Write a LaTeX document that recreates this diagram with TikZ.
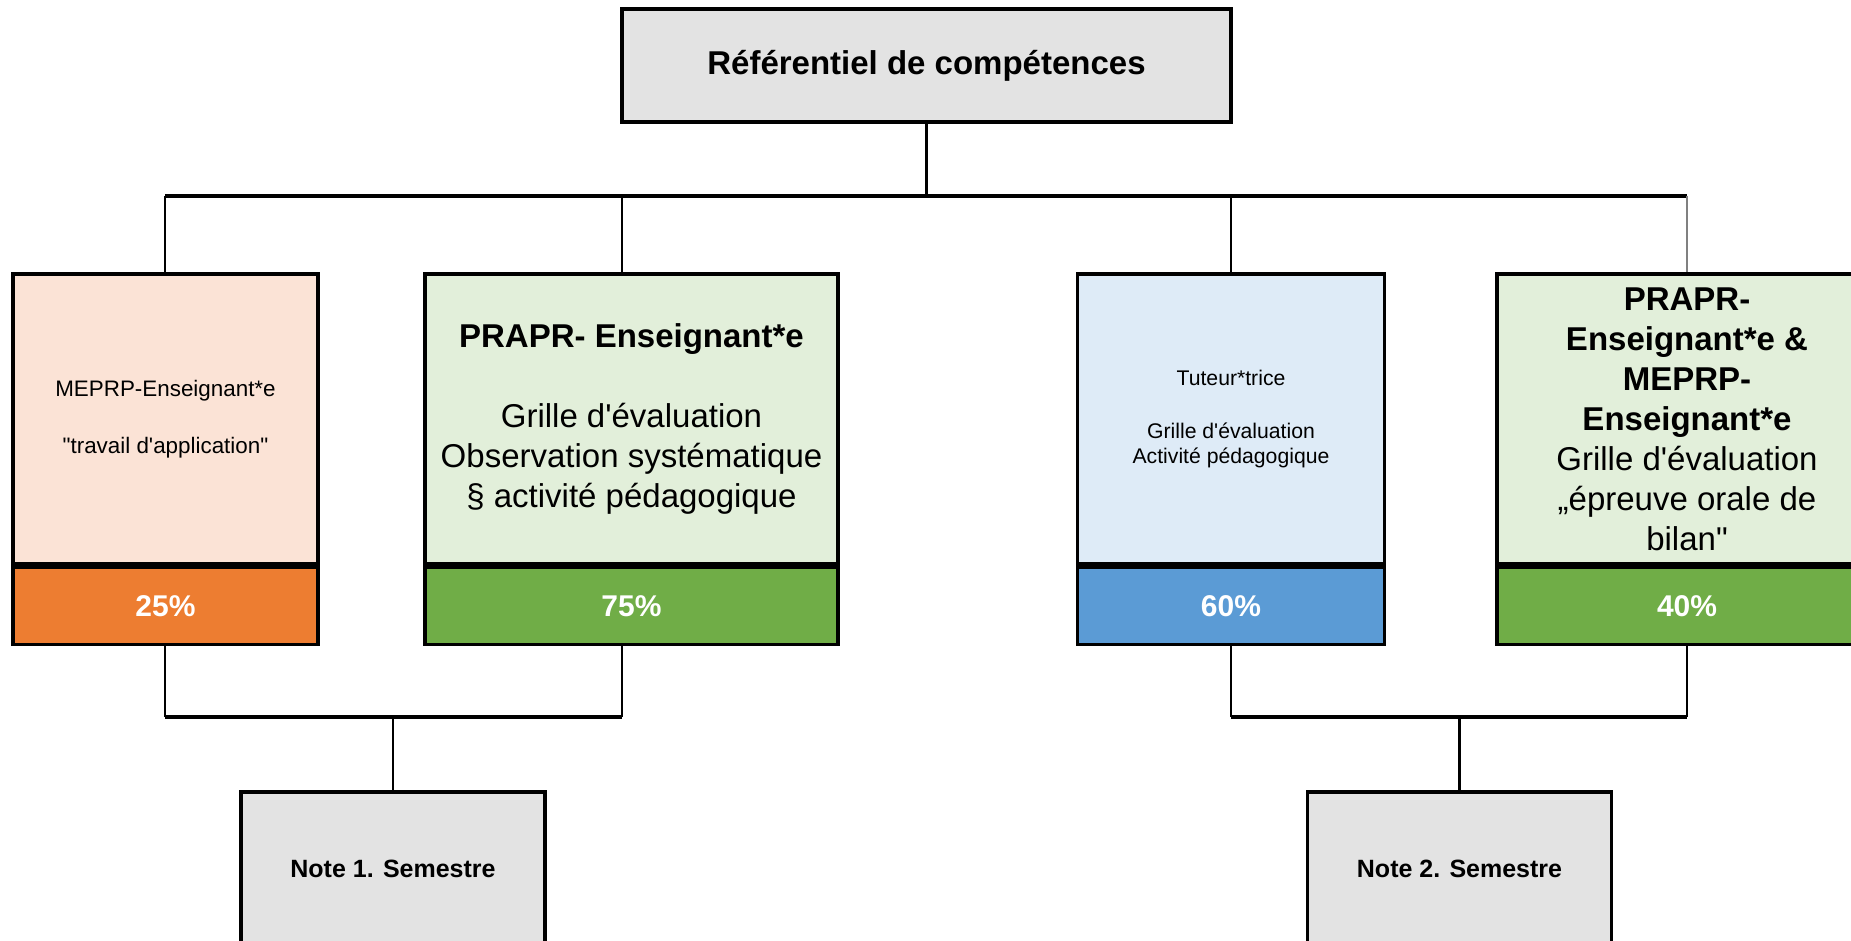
\documentclass[tikz,border=0pt]{standalone}
\usepackage{fontspec}
\setmainfont{Liberation Sans}
\usepackage{tikz}
\definecolor{refgray}{HTML}{E3E3E3}
\definecolor{meprpfill}{HTML}{FBE3D6}
\definecolor{meprpbar}{HTML}{ED7D31}
\definecolor{praprfill}{HTML}{E2EFDA}
\definecolor{praprbar}{HTML}{70AD47}
\definecolor{tutofill}{HTML}{DEEBF7}
\definecolor{tutobar}{HTML}{5B9BD5}
\newcommand{\apo}{\textquotesingle}
\newcommand{\dq}{\textquotedbl}

\begin{document}
\begin{tikzpicture}[x=0.5pt, y=-0.5pt,
    box/.style={rectangle, draw, line width=1.8pt, align=center, inner sep=0pt},
    topbox/.style={box, fill=refgray, minimum width=304.5pt, minimum height=56.5pt, font=\bfseries\fontsize{16.5}{20}\selectfont},
    card/.style={box, minimum height=145pt},
    bigtext/.style={font=\fontsize{16.5}{20}\selectfont},
    pctbar/.style={box, anchor=north, minimum height=38.5pt, text=white, font=\bfseries\fontsize{15}{18}\selectfont},
    notebox/.style={box, fill=refgray, minimum width=152pt, minimum height=76.5pt, font=\bfseries\fontsize{12.5}{15}\selectfont},
    vline/.style={line width=1.4pt},
    hline/.style={line width=2pt}]

  \useasboundingbox (0,0) rectangle (1851,941);

  \node[topbox] (ref) at (926.5,65.5) {Référentiel de compétences};

  \node[card, fill=meprpfill, minimum width=152.5pt, font=\fontsize{11.2}{13.5}\selectfont] (meprp) at (165.5,419)
       {MEPRP-Enseignant*e\\[15pt]\dq travail d\apo application\dq};
  \node[pctbar, fill=meprpbar, minimum width=152.5pt] (meprpbar) at (meprp.south) {25\%};

  \node[card, fill=praprfill, minimum width=206.5pt, bigtext] (prapr) at (631.5,419)
       {\textbf{PRAPR- Enseignant*e}\\[20pt]Grille d\apo évaluation\\Observation systématique\\§ activité pédagogique};
  \node[pctbar, fill=praprbar, minimum width=206.5pt] (praprbar) at (prapr.south) {75\%};

  \node[card, fill=tutofill, minimum width=153.5pt, font=\fontsize{10.6}{12.5}\selectfont] (tuto) at (1231,419)
       {Tuteur*trice\\[14pt]Grille d\apo évaluation\\Activité pédagogique};
  \node[pctbar, fill=tutobar, minimum width=153.5pt] (tutobar) at (tuto.south) {60\%};

  \node[card, fill=praprfill, minimum width=190pt, bigtext] (bilan) at (1687,419)
       {\textbf{PRAPR-}\\\textbf{Enseignant*e \&}\\\textbf{MEPRP-}\\\textbf{Enseignant*e}\\Grille d\apo évaluation\\„épreuve orale de\\bilan\dq};
  \node[pctbar, fill=praprbar, minimum width=190pt] (bilanbar) at (bilan.south) {40\%};

  \node[notebox] (note1) at (393,868.5) {Note 1. Semestre};
  \node[notebox] (note2) at (1459.5,868.5) {Note 2. Semestre};

  \coordinate (d1) at (165,196);
  \coordinate (d2) at (622,196);
  \coordinate (d3) at (1231,196);
  \coordinate (d4) at (1687,196);
  \coordinate (j1) at (393,717);
  \coordinate (j2) at (1459.5,717);

  \draw[vline] (ref.south) -- (ref.south |- d1);
  \draw[hline] (d1) -- (d4);
  \draw[vline] (d1) -- (d1 |- meprp.north);
  \draw[vline] (d2) -- (d2 |- prapr.north);
  \draw[vline] (d3) -- (d3 |- tuto.north);
  \draw[vline, gray] (d4) -- (d4 |- bilan.north);

  \draw[vline] (d1 |- meprpbar.south) -- (d1 |- j1);
  \draw[vline] (d2 |- praprbar.south) -- (d2 |- j1);
  \draw[hline] (d1 |- j1) -- (d2 |- j1);
  \draw[vline] (j1) -- (note1.north);

  \draw[vline] (d3 |- tutobar.south) -- (d3 |- j2);
  \draw[vline] (d4 |- bilanbar.south) -- (d4 |- j2);
  \draw[hline] (d3 |- j2) -- (d4 |- j2);
  \draw[vline] (j2) -- (note2.north);
\end{tikzpicture}
\end{document}
